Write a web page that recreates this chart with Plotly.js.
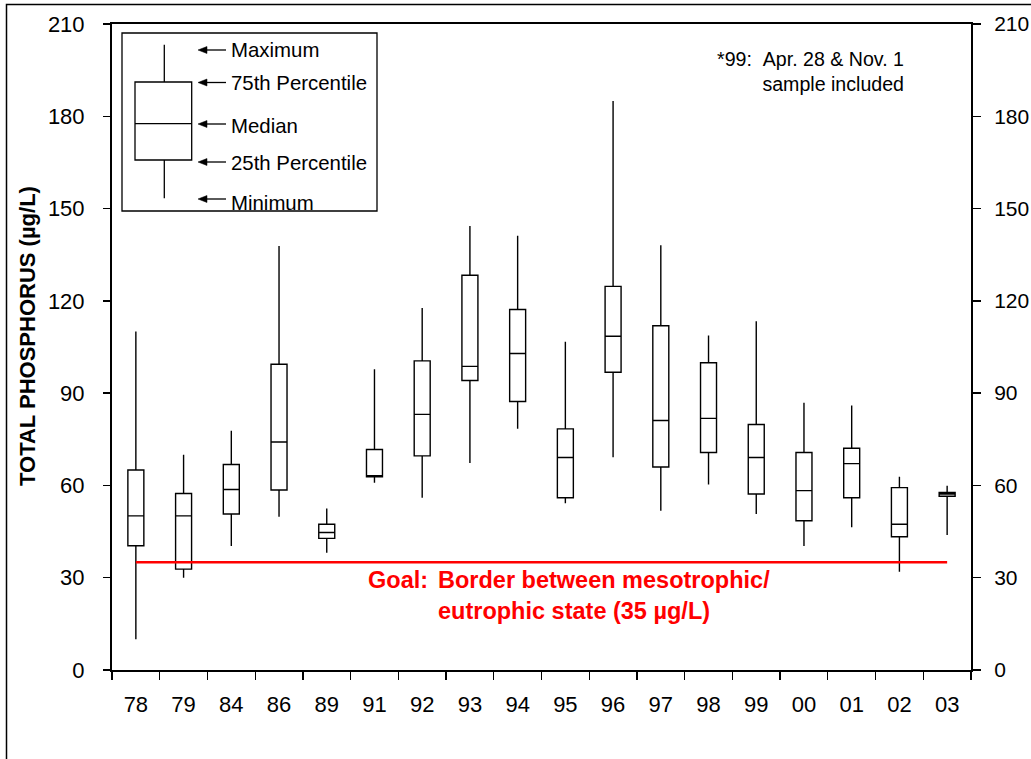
<!DOCTYPE html>
<html>
<head>
<meta charset="utf-8">
<script src="https://cdn.plot.ly/plotly-3.0.1.min.js"></script>
<style>html,body{margin:0;padding:0;background:#fff;}#chart{width:1031px;height:759px;}</style>
</head>
<body>
<div id="chart"></div>
<script>
// ---- data ----
const years = ['78','79','84','86','89','91','92','93','94','95','96','97','98','99','00','01','02','03'];
const maxVals = [110, 70, 77.8, 137.8, 52.5, 97.8, 117.7, 144.3, 141.2, 106.7, 185, 138.1, 108.7, 113.4, 86.9, 86, 62.8, 59.9];
const q3Vals = [65, 57.4, 66.8, 99.4, 47.4, 71.7, 100.5, 128.3, 117.2, 78.4, 124.7, 111.9, 99.9, 79.8, 70.7, 72.1, 59.3, 57.7];
const medianVals = [50.1, 50.1, 58.7, 74.1, 44.7, 62.8, 83.1, 98.7, 102.9, 69.1, 108.5, 81.1, 81.8, 69.1, 58.3, 67.1, 47.4, 57.2];
const q1Vals = [40.4, 32.8, 50.7, 58.5, 42.8, 62.8, 69.6, 94.1, 87.3, 56, 96.8, 66, 70.7, 57.2, 48.5, 56, 43.3, 56.5];
const minVals = [10, 30, 40.3, 49.8, 38.1, 60.9, 56, 67.3, 78.4, 54.2, 69.2, 51.8, 60.3, 50.7, 40.3, 46.4, 31.9, 43.9];
const goalValue = 35;
const yTicks = [0, 30, 60, 90, 120, 150, 180, 210];

// ---- layout helpers (pixel -> paper) ----
const W = 1031, H = 759, PL = 112, PR = 971, PT = 24, PB = 670;
const px = x => (x - PL) / (PR - PL);
const py = y => (PB - y) / (PB - PT);
const FONT = 'Liberation Sans, Arial, sans-serif';

const traces = [
  {
    type: 'box',
    x: years,
    q1: q1Vals,
    median: medianVals,
    q3: q3Vals,
    lowerfence: minVals,
    upperfence: maxVals,
    boxpoints: false,
    whiskerwidth: 0,
    line: {color: '#000', width: 1.4},
    fillcolor: 'rgba(255,255,255,0)',
    hoverinfo: 'x+y'
  },
  {
    type: 'scatter',
    mode: 'lines',
    x: [years[0], years[years.length - 1]],
    y: [goalValue, goalValue],
    xaxis: 'x',
    yaxis: 'y2',
    line: {color: '#ff0000', width: 2.5},
    hoverinfo: 'skip'
  }
];

const shapes = [];
const line = (x0, y0, x1, y1, w) => shapes.push({type: 'line', xref: 'paper', yref: 'paper', x0: px(x0), y0: py(y0), x1: px(x1), y1: py(y1), line: {color: '#000', width: w || 1.3}});
const rect = (x0, y0, x1, y1, w) => shapes.push({type: 'rect', xref: 'paper', yref: 'paper', x0: px(x0), y0: py(y0), x1: px(x1), y1: py(y1), line: {color: '#000', width: w || 1.3}, fillcolor: 'rgba(0,0,0,0)'});

// outer frame
rect(6.5, 4.5, 1200, 900, 1.5);
// key box
rect(122, 33, 377, 211, 1.3);
line(164.3, 44.7, 164.3, 82);
line(164.3, 160, 164.3, 198.3);
rect(135, 82, 191.7, 160);
line(135, 123.7, 191.7, 123.7);
const arrowRows = [50, 82.5, 124, 162, 199];
arrowRows.forEach(y => {
  line(201, y, 226, y, 1.3);
  shapes.push({type: 'path', xref: 'paper', yref: 'paper',
    path: `M ${px(198)} ${py(y)} L ${px(207)} ${py(y - 3.5)} L ${px(207)} ${py(y + 3.5)} Z`,
    fillcolor: '#000', line: {color: '#000', width: 0.5}});
});

const ann = [];
const keyLabels = ['Maximum', '75th Percentile', 'Median', '25th Percentile', 'Minimum'];
const keyY = [50, 83.5, 126, 162.5, 203];
keyLabels.forEach((t, i) => ann.push({xref: 'paper', yref: 'paper', x: px(229), y: py(keyY[i]), xanchor: 'left', yanchor: 'middle', text: t, showarrow: false, font: {family: FONT, size: 20.4, color: '#000'}}));

ann.push({xref: 'paper', yref: 'paper', x: px(906), y: py(72), xanchor: 'right', yanchor: 'middle', align: 'right',
  text: '*99:\u00a0\u00a0Apr. 28 &amp; Nov. 1<br>sample included', showarrow: false, font: {family: FONT, size: 19.6, color: '#000'}});

ann.push({xref: 'paper', yref: 'paper', x: px(366), y: py(580), xanchor: 'left', yanchor: 'middle', text: 'Goal:', showarrow: false,
  font: {family: FONT, size: 23.5, color: '#ff0000', weight: 700}});
ann.push({xref: 'paper', yref: 'paper', x: px(436), y: py(595), xanchor: 'left', yanchor: 'middle', align: 'left',
  text: 'Border between mesotrophic/<br>eutrophic state (35 µg/L)', showarrow: false,
  font: {family: FONT, size: 23.5, color: '#ff0000', weight: 700}});

ann.push({xref: 'paper', yref: 'paper', x: px(27), y: py(336), xanchor: 'center', yanchor: 'middle', textangle: -90,
  text: 'TOTAL PHOSPHORUS (µg/L)', showarrow: false, font: {family: FONT, size: 22, color: '#000', weight: 700}});

const layout = {
  width: W, height: H,
  margin: {l: PL, r: W - PR, t: PT, b: H - PB, pad: 0},
  paper_bgcolor: '#fff', plot_bgcolor: '#fff',
  showlegend: false,
  boxgap: 0.665,
  boxgroupgap: 0,
  font: {family: FONT, color: '#000'},
  xaxis: {
    type: 'category', categoryorder: 'array', categoryarray: years,
    range: [-0.5, years.length - 0.5],
    tickson: 'boundaries', ticks: 'outside', ticklen: 8, tickwidth: 1.3, tickcolor: '#000',
    showline: true, linecolor: '#000', linewidth: 2, mirror: true,
    showgrid: false, zeroline: false,
    tickfont: {family: FONT, size: 22, color: '#000'},
    ticklabelstandoff: 14
  },
  yaxis: {
    range: [0, 210], tickvals: yTicks, ticktext: yTicks.map(String),
    ticks: 'outside', ticklen: 7, tickwidth: 1.3, tickcolor: '#000',
    showline: true, linecolor: '#000', linewidth: 2,
    showgrid: false, zeroline: false,
    tickfont: {family: FONT, size: 22, color: '#000'},
    ticklabelstandoff: 14
  },
  yaxis2: {
    overlaying: 'y', side: 'right', anchor: 'x',
    range: [0, 210], tickvals: yTicks, ticktext: yTicks.map(String),
    ticks: 'outside', ticklen: 8, tickwidth: 1.3, tickcolor: '#000',
    showline: true, linecolor: '#000', linewidth: 2,
    showgrid: false, zeroline: false,
    tickfont: {family: FONT, size: 21, color: '#000'},
    ticklabelstandoff: 9
  },
  shapes: shapes,
  annotations: ann
};

Plotly.newPlot('chart', traces, layout, {displayModeBar: false, staticPlot: true});
</script>
</body>
</html>
